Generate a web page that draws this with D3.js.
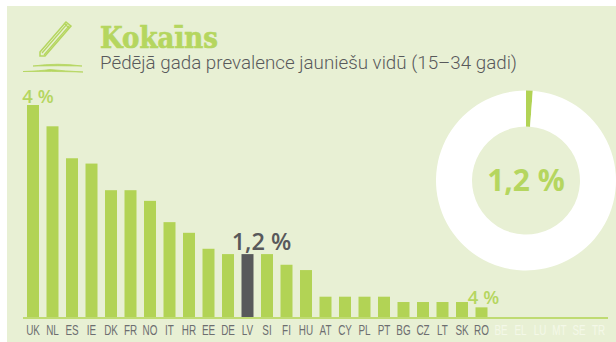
<!DOCTYPE html>
<html>
<head>
<meta charset="utf-8">
<script src="https://d3js.org/d3.v7.min.js"></script>
<style>
  html, body { margin: 0; padding: 0; background: white; }
  svg { display: block; }
</style>
</head>
<body>
<div id="container"></div>
<script>
let w = 616;
let h = 342;

let countries = ["UK", "NL", "ES", "IE", "DK", "FR", "NO", "IT", "HR", "EE", "DE", "LV", "SI", "FI", "HU",
  "AT", "CY", "PL", "PT", "BG", "CZ", "LT", "SK", "RO", "BE", "EL", "LU", "MT", "SE", "TR"];
let values = [4, 3.6, 3, 2.9, 2.4, 2.4, 2.2, 1.8, 1.6, 1.3, 1.2, 1.2, 1.2, 1, 0.9,
  0.4, 0.4, 0.4, 0.4, 0.3, 0.3, 0.3, 0.3, 0.2, null, null, null, null, null, null];
let highlight = "LV";
let average = 1.2;
let labels = [
  { code: "UK", text: "4 %" },
  { code: "LV", text: "1,2 %" },
  { code: "RO", text: "4 %" }
];

let green = "#b2d355";
let labelGreen = "#b5d65f";
let dark = "#58595b";
let bg = "#e8f0d4";

let viz = d3.select("#container")
  .append("svg")
  .attr("width", w)
  .attr("height", h)
  .style("background-color", "white");

viz.append("rect")
  .attr("x", 7)
  .attr("y", 6)
  .attr("width", w - 7)
  .attr("height", h - 6)
  .attr("fill", bg);

// header
let icon = viz.append("g").attr("class", "icon");

icon.append("path")
  .attr("d", "M40 52 L66 22 L71 26 L45 56 L40 56 Z")
  .attr("fill", bg)
  .attr("stroke", labelGreen)
  .attr("stroke-width", 1.5);
icon.append("path")
  .attr("d", "M42 53 L67.5 23.5 M44 55 L69.5 25.5 M64 23 L69 28")
  .attr("stroke", labelGreen)
  .attr("stroke-width", 1.2);
icon.append("path")
  .attr("d", "M33 66 Q58 62.5 82 66 Q58 65.5 33 66 Z M23 71.5 Q40 71 50 69.5 Q65 71 83 72 Q50 71 23 71.5 Z")
  .attr("fill", labelGreen)
  .attr("stroke", labelGreen)
  .attr("stroke-width", 0.8);

viz.append("text")
  .attr("x", 100)
  .attr("y", 47.5)
  .attr("font-family", "DejaVu Serif")
  .attr("font-weight", "bold")
  .attr("font-size", 29)
  .attr("textLength", 118)
  .attr("lengthAdjust", "spacingAndGlyphs")
  .attr("fill", labelGreen)
  .attr("stroke", labelGreen)
  .attr("stroke-width", 0.7)
  .text("Kokaīns");

viz.append("text")
  .attr("x", 100)
  .attr("y", 69)
  .attr("font-family", "Roboto")
  .attr("font-weight", 300)
  .attr("font-size", 17.5)
  .attr("textLength", 417)
  .attr("lengthAdjust", "spacingAndGlyphs")
  .attr("fill", "#58595b")
  .text("Pēdējā gada prevalence jauniešu vidū (15–34 gadi)");

// bars
let x = d3.scaleBand()
  .domain(countries)
  .range([27, 604.5])
  .paddingInner(7.5 / 19.5);

let y = d3.scaleLinear()
  .domain([0, 4])
  .range([318, 105]);

viz.selectAll(".bar")
  .data(countries.filter((c, i) => values[i] != null))
  .enter()
  .append("rect")
  .attr("class", "bar")
  .attr("x", d => x(d))
  .attr("y", d => y(values[countries.indexOf(d)]))
  .attr("width", x.bandwidth())
  .attr("height", d => y(0) - y(values[countries.indexOf(d)]))
  .attr("fill", d => d == highlight ? dark : green);

viz.append("line")
  .attr("x1", 23)
  .attr("x2", 608)
  .attr("y1", y(0))
  .attr("y2", y(0))
  .attr("stroke", "#bfdb72")
  .attr("stroke-width", 2);

// country codes, squeezed because there is no narrow font here
viz.selectAll(".code")
  .data(countries)
  .enter()
  .append("text")
  .attr("class", "code")
  .attr("transform", d => "translate(" + (x(d) + x.bandwidth() / 2) + ",335) scale(0.66,1)")
  .attr("text-anchor", "middle")
  .attr("font-family", "Liberation Sans")
  .attr("font-size", 15)
  .attr("fill", (d, i) => values[i] == null ? "#f4f8e8" : "#6d6e70")
  .text(d => d);

// value labels
let labelX = { UK: 38, LV: 261.5, RO: 483.5 };
let labelGap = { UK: 2.5, LV: 4, RO: 3.5 };

viz.selectAll(".label")
  .data(labels)
  .enter()
  .append("text")
  .attr("class", "label")
  .attr("x", d => labelX[d.code])
  .attr("y", d => y(values[countries.indexOf(d.code)]) - labelGap[d.code])
  .attr("text-anchor", "middle")
  .attr("font-family", "Open Sans")
  .attr("font-weight", 600)
  .attr("font-size", d => d.code == "LV" ? 23.5 : 18.5)
  .attr("fill", d => d.code == "LV" ? dark : labelGreen)
  .text(d => d.text);

// donut
let donut = viz.append("g")
  .attr("transform", "translate(526,180.5)");

let pie = d3.pie().sort(null);
let arc = d3.arc().innerRadius(54).outerRadius(90);
let slices = pie([average, 100 - average]);

donut.selectAll("path")
  .data(slices)
  .enter()
  .append("path")
  .attr("d", arc)
  .attr("fill", (d, i) => i == 0 ? green : "white");

donut.append("text")
  .attr("y", 10)
  .attr("text-anchor", "middle")
  .attr("font-family", "Open Sans")
  .attr("font-weight", 700)
  .attr("font-size", 30)
  .attr("fill", labelGreen)
  .text("1,2 %");
</script>
</body>
</html>
